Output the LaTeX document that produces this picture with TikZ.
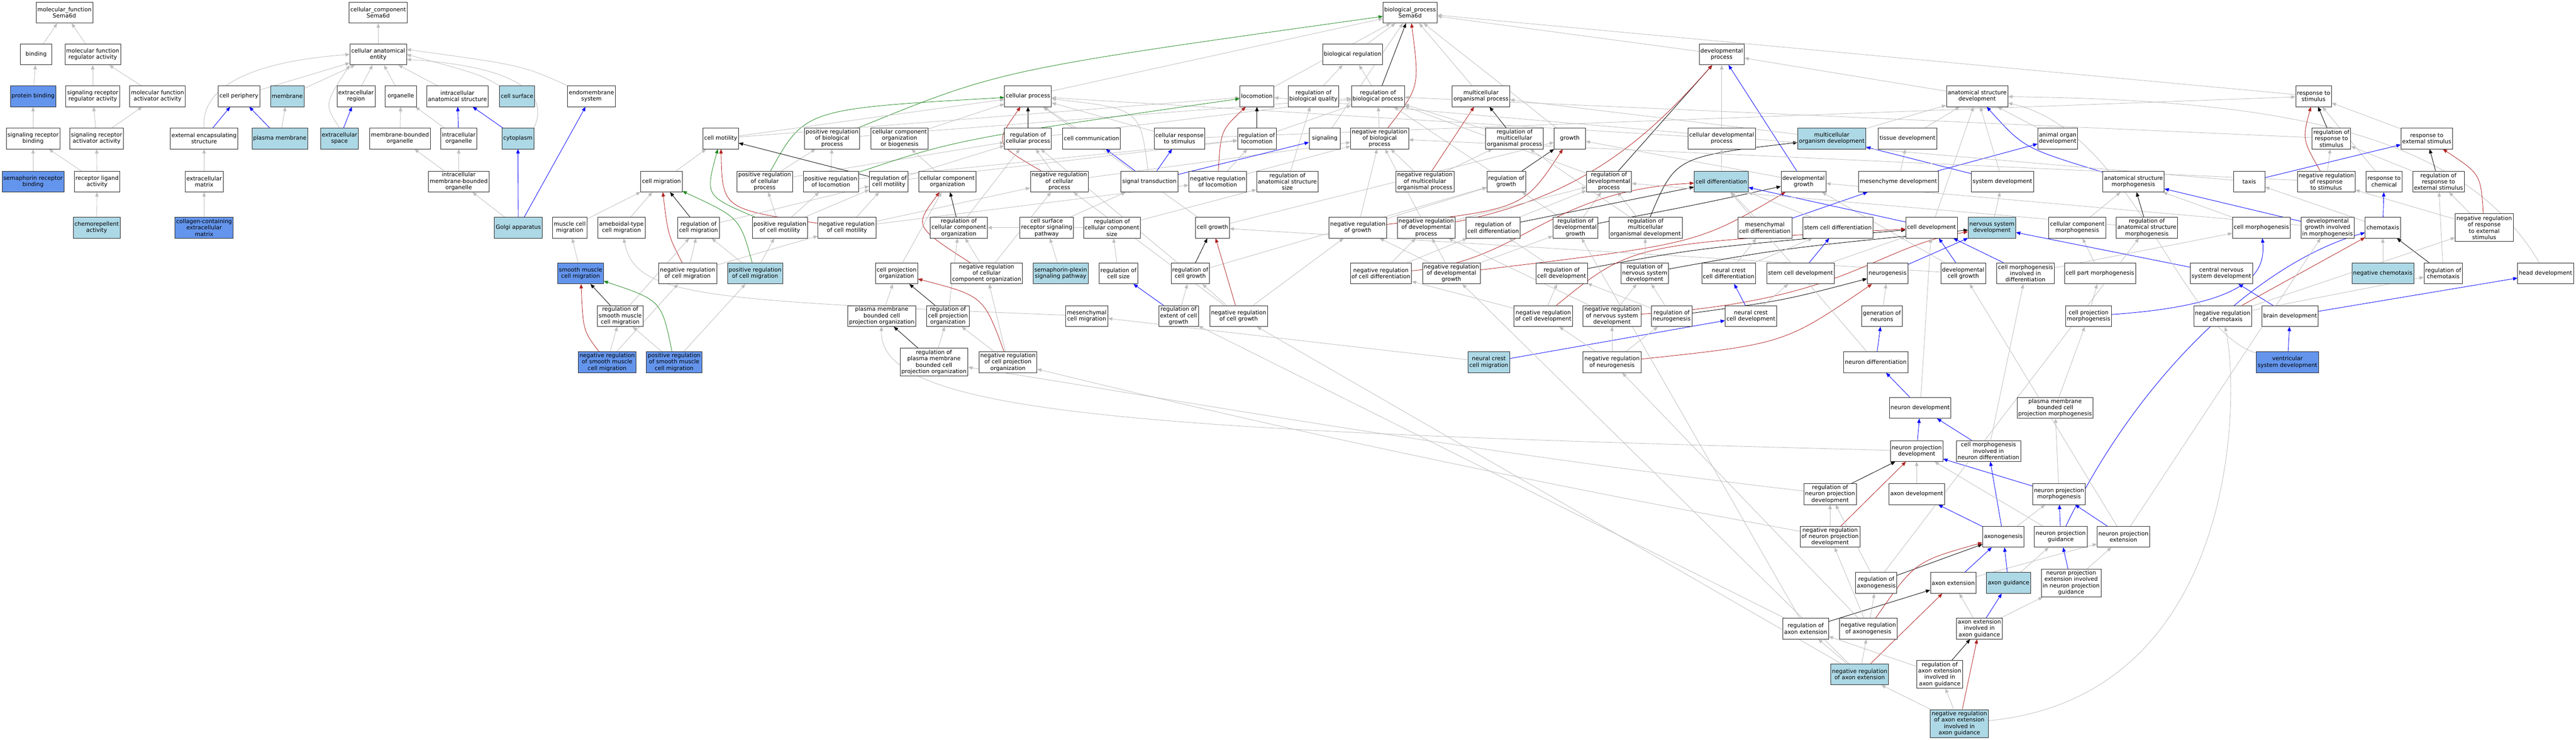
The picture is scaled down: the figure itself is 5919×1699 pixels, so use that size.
\documentclass[tikz,border=0pt]{standalone}
\usepackage{fontspec}
\setmainfont{DejaVu Sans}
\usetikzlibrary{arrows.meta, backgrounds}
\definecolor{edgegrey}{HTML}{BEBEBE}
\definecolor{annotblue}{HTML}{ADD8E6}
\definecolor{directblue}{HTML}{6495ED}
\definecolor{partblue}{HTML}{0000FF}
\definecolor{negred}{HTML}{B22222}
\definecolor{posgreen}{HTML}{228B22}

\begin{document}
\begin{tikzpicture}[x=1pt, y=-1pt,
    term/.style={rectangle, draw=black!85, line width=0.9pt, fill=white,
                 align=center, font=\fontsize{13}{14.6}\selectfont,
                 minimum width=72pt, minimum height=48pt,
                 inner xsep=3pt, inner ysep=1pt},
    termlight/.style={term, fill=annotblue},
    termdark/.style={term, fill=directblue},
    tall/.style={minimum height=64pt},
    link/.style={-{Triangle[length=10pt,width=8pt]}, line width=1pt},
    isa/.style={link, color=edgegrey},
    partof/.style={link, color=partblue},
    regulates/.style={link, color=black},
    negreg/.style={link, color=negred},
    posreg/.style={link, color=posgreen}
  ]
    \useasboundingbox (0,0) rectangle (5919,1699);

    % Molecular function
    \node[term] (mfroot) at (148,29) {molecular\_function\\Sema6d};
    \node[term] (binding) at (83,125) {binding};
    \node[term] (mfreg) at (213,125) {molecular function\\regulator activity};
    \node[termdark] (protbind) at (76,221) {protein binding};
    \node[term] (sigrecreg) at (213,221) {signaling receptor\\regulator activity};
    \node[term] (mfact) at (362,221) {molecular function\\activator activity};
    \node[term] (sigrecbind) at (76,318) {signaling receptor\\binding};
    \node[term] (sigrecact) at (222,318) {signaling receptor\\activator activity};
    \node[termdark] (semarecbind) at (76,417) {semaphorin receptor\\binding};
    \node[term] (recligand) at (223,417) {receptor ligand\\activity};
    \node[termlight] (chemorep) at (222,523) {chemorepellent\\activity};

    % Cellular component
    \node[term] (ccroot) at (869,29) {cellular\_component\\Sema6d};
    \node[term] (ccent) at (869,125) {cellular anatomical\\entity};
    \node[term] (cellperiph) at (549,221) {cell periphery};
    \node[termlight] (membrane) at (660,221) {membrane};
    \node[term] (extreg) at (818,221) {extracellular\\region};
    \node[term] (organelle) at (921,221) {organelle};
    \node[term] (intraanat) at (1051,221) {intracellular\\anatomical structure};
    \node[termlight] (cellsurf) at (1188,221) {cell surface};
    \node[term] (endomem) at (1359,221) {endomembrane\\system};
    \node[term] (extencap) at (469,318) {external encapsulating\\structure};
    \node[termlight] (plasmamem) at (643,318) {plasma membrane};
    \node[termlight] (extspace) at (780,318) {extracellular\\space};
    \node[term] (membbound) at (919,318) {membrane-bounded\\organelle};
    \node[term] (intraorg) at (1054,318) {intracellular\\organelle};
    \node[termlight] (cytoplasm) at (1190,318) {cytoplasm};
    \node[term] (extmatrix) at (469,417) {extracellular\\matrix};
    \node[term] (intrambo) at (1054,417) {intracellular\\membrane-bounded\\organelle};
    \node[termdark] (collagen) at (469,523) {collagen-containing\\extracellular\\matrix};
    \node[termlight] (golgi) at (1191,523) {Golgi apparatus};

    % Biological process, rows 0-2
    \node[term] (bproot) at (3240,29) {biological\_process\\Sema6d};
    \node[term] (bioreg) at (3108,125) {biological regulation};
    \node[term] (devproc) at (3956,125) {developmental\\process};
    \node[term] (cellproc) at (2362,221) {cellular process};
    \node[term] (locomotion) at (2888,221) {locomotion};
    \node[term] (regbioqual) at (3018,221) {regulation of\\biological quality};
    \node[term] (regbioproc) at (3166,221) {regulation of\\biological process};
    \node[term] (multiorgproc) at (3403,221) {multicellular\\organismal process};
    \node[term] (anatdev) at (4543,221) {anatomical structure\\development};
    \node[term] (respstim) at (5316,221) {response to\\stimulus};

    % row 3
    \node[term] (cellmot) at (1656,318) {cell motility};
    \node[term] (posregbio) at (1912,318) {positive regulation\\of biological\\process};
    \node[term] (ccob) at (2067,318) {cellular component\\organization\\or biogenesis};
    \node[term] (regcellproc) at (2362,318) {regulation of\\cellular process};
    \node[term] (cellcomm) at (2508,318) {cell communication};
    \node[term] (cellresp) at (2710,318) {cellular response\\to stimulus};
    \node[term] (regloco) at (2888,318) {regulation of\\locomotion};
    \node[term] (signaling) at (3044,318) {signaling};
    \node[term] (negregbio) at (3170,318) {negative regulation\\of biological\\process};
    \node[term] (regmultiorg) at (3480,318) {regulation of\\multicellular\\organismal process};
    \node[term] (growth) at (3607,318) {growth};
    \node[term] (celldevproc) at (3956,318) {cellular developmental\\process};
    \node[termlight] (multiorgdev) at (4209,318) {multicellular\\organism development};
    \node[term] (tissuedev) at (4383,318) {tissue development};
    \node[term] (animalorgan) at (4728,318) {animal organ\\development};
    \node[term] (regrespstim) at (5357,318) {regulation of\\response to\\stimulus};
    \node[term] (respext) at (5576,318) {response to\\external stimulus};

    % row 4
    \node[term] (cellmig) at (1520,417) {cell migration};
    \node[term] (posregcellproc) at (1757,417) {positive regulation\\of cellular\\process};
    \node[term] (posregloco) at (1909,417) {positive regulation\\of locomotion};
    \node[term] (regcellmot) at (2042,417) {regulation of\\cell motility};
    \node[term] (cco) at (2177,417) {cellular component\\organization};
    \node[term] (negregcellproc) at (2434,417) {negative regulation\\of cellular\\process};
    \node[term] (sigtrans) at (2641,417) {signal transduction};
    \node[term] (negregloco) at (2798,417) {negative regulation\\of locomotion};
    \node[term] (reganatsize) at (2958,417) {regulation of\\anatomical structure\\size};
    \node[term] (negregmultiorg) at (3274,417) {negative regulation\\of multicellular\\organismal process};
    \node[term] (reggrowth) at (3461,417) {regulation of\\growth};
    \node[term] (regdevproc) at (3697,417) {regulation of\\developmental\\process};
    \node[termlight] (celldiff) at (3955,417) {cell differentiation};
    \node[term] (devgrowth) at (4144,417) {developmental\\growth};
    \node[term] (mesendev) at (4362,417) {mesenchyme development};
    \node[term] (sysdev) at (4601,417) {system development};
    \node[term] (anatmorph) at (4902,417) {anatomical structure\\morphogenesis};
    \node[term] (taxis) at (5168,417) {taxis};
    \node[term] (negregrespstim) at (5345,417) {negative regulation\\of response\\to stimulus};
    \node[term] (respchem) at (5478,417) {response to\\chemical};
    \node[term] (regrespext) at (5603,417) {regulation of\\response to\\external stimulus};

    % row 5
    \node[term] (musclemig) at (1309,523) {muscle cell\\migration};
    \node[term] (ameboid) at (1428,523) {ameboidal-type\\cell migration};
    \node[term] (regcellmig) at (1605,523) {regulation of\\cell migration};
    \node[term] (posregcellmot) at (1792,523) {positive regulation\\of cell motility};
    \node[term] (negregcellmot) at (1946,523) {negative regulation\\of cell motility};
    \node[term] (regcco) at (2203,523) {regulation of\\cellular component\\organization};
    \node[term] (csrsp) at (2405,523) {cell surface\\receptor signaling\\pathway};
    \node[term] (regccsize) at (2555,523) {regulation of\\cellular component\\size};
    \node[term] (cellgrowth) at (2786,523) {cell growth};
    \node[term] (negreggrowth) at (3120,523) {negative regulation\\of growth};
    \node[term] (negregdevproc) at (3277,523) {negative regulation\\of developmental\\process};
    \node[term] (regcelldiff) at (3431,523) {regulation of\\cell differentiation};
    \node[term] (regdevgrowth) at (3620,523) {regulation of\\developmental\\growth};
    \node[term] (regmultidev) at (3781,523) {regulation of\\multicellular\\organismal development};
    \node[term] (mesencelldiff) at (4055,523) {mesenchymal\\cell differentiation};
    \node[term] (stemdiff) at (4223,523) {stem cell differentiation};
    \node[term] (celldev) at (4438,523) {cell development};
    \node[termlight] (nsdev) at (4577,523) {nervous system\\development};
    \node[term] (ccmorph) at (4773,523) {cellular component\\morphogenesis};
    \node[term] (reganatmorph) at (4933,523) {regulation of\\anatomical structure\\morphogenesis};
    \node[term] (cellmorph) at (5196,523) {cell morphogenesis};
    \node[term] (devgrowthmorph) at (5348,523) {developmental\\growth involved\\in morphogenesis};
    \node[term] (chemotaxis) at (5475,523) {chemotaxis};
    \node[term, tall] (negregrespext) at (5708,523) {negative regulation\\of response\\to external\\stimulus};

    % row 6
    \node[termdark] (smcmig) at (1334,628) {smooth muscle\\cell migration};
    \node[term] (negregcellmig) at (1580,628) {negative regulation\\of cell migration};
    \node[termlight] (posregcellmig) at (1735,628) {positive regulation\\of cell migration};
    \node[term] (cellprojorg) at (2060,628) {cell projection\\organization};
    \node[term] (negregcco) at (2267,628) {negative regulation\\of cellular\\component organization};
    \node[termlight] (semaplexin) at (2437,628) {semaphorin-plexin\\signaling pathway};
    \node[term] (regcellsize) at (2570,628) {regulation of\\cell size};
    \node[term] (regcellgrowth) at (2735,628) {regulation of\\cell growth};
    \node[term] (negregcelldiff) at (3173,628) {negative regulation\\of cell differentiation};
    \node[term] (negregdevgrowth) at (3335,628) {negative regulation\\of developmental\\growth};
    \node[term] (regcelldev) at (3588,628) {regulation of\\cell development};
    \node[term] (regnsdev) at (3779,628) {regulation of\\nervous system\\development};
    \node[term] (nccdiff) at (3972,628) {neural crest\\cell differentiation};
    \node[term] (stemdev) at (4137,628) {stem cell development};
    \node[term] (neurogenesis) at (4337,628) {neurogenesis};
    \node[term] (devcellgrowth) at (4511,628) {developmental\\cell growth};
    \node[term] (cmorphdiff) at (4654,628) {cell morphogenesis\\involved in\\differentiation};
    \node[term] (cpartmorph) at (4825,628) {cell part morphogenesis};
    \node[term] (cnsdev) at (5104,628) {central nervous\\system development};
    \node[termlight] (negchemo) at (5475,628) {negative chemotaxis};
    \node[term] (regchemo) at (5614,628) {regulation of\\chemotaxis};
    \node[term] (headdev) at (5849,628) {head development};

    % row 7
    \node[term] (regsmcmig) at (1425,726) {regulation of\\smooth muscle\\cell migration};
    \node[term] (pmbcpo) at (2026,726) {plasma membrane\\bounded cell\\projection organization};
    \node[term] (regcellprojorg) at (2178,726) {regulation of\\cell projection\\organization};
    \node[term] (mesencellmig) at (2497,726) {mesenchymal\\cell migration};
    \node[term] (regextgrowth) at (2708,726) {regulation of\\extent of cell\\growth};
    \node[term] (negregcellgrowth) at (2846,726) {negative regulation\\of cell growth};
    \node[term] (negregcelldev) at (3546,726) {negative regulation\\of cell development};
    \node[term] (negregnsdev) at (3704,726) {negative regulation\\of nervous system\\development};
    \node[term] (regneurogen) at (3841,726) {regulation of\\neurogenesis};
    \node[term] (nccdev) at (4023,726) {neural crest\\cell development};
    \node[term] (genneurons) at (4324,726) {generation of\\neurons};
    \node[term] (cprojmorph) at (4799,726) {cell projection\\morphogenesis};
    \node[term] (negregchemo) at (5107,726) {negative regulation\\of chemotaxis};
    \node[term] (braindev) at (5262,726) {brain development};

    % row 8
    \node[termdark] (negregsmcmig) at (1395,832) {negative regulation\\of smooth muscle\\cell migration};
    \node[termdark] (posregsmcmig) at (1549,832) {positive regulation\\of smooth muscle\\cell migration};
    \node[term, tall] (regpmbcpo) at (2146,832) {regulation of\\plasma membrane\\bounded cell\\projection organization};
    \node[term] (negregcellprojorg) at (2316,832) {negative regulation\\of cell projection\\organization};
    \node[termlight] (nccmig) at (3421,832) {neural crest\\cell migration};
    \node[term] (negregneurogen) at (3704,832) {negative regulation\\of neurogenesis};
    \node[term] (neurondiff) at (4310,832) {neuron differentiation};
    \node[termdark] (ventricular) at (5256,832) {ventricular\\system development};

    % rows 9-16, neuron projection branch
    \node[term] (neurondev) at (4412,937) {neuron development};
    \node[term] (pmbcpm) at (4722,937) {plasma membrane\\bounded cell\\projection morphogenesis};
    \node[term] (npd) at (4404,1036) {neuron projection\\development};
    \node[term] (cmorphneuron) at (4569,1036) {cell morphogenesis\\involved in\\neuron differentiation};
    \node[term] (regnpd) at (4205,1135) {regulation of\\neuron projection\\development};
    \node[term] (axondev) at (4404,1135) {axon development};
    \node[term] (npmorph) at (4731,1135) {neuron projection\\morphogenesis};
    \node[term] (negregnpd) at (4205,1233) {negative regulation\\of neuron projection\\development};
    \node[term] (axonogenesis) at (4603,1233) {axonogenesis};
    \node[term] (npguid) at (4735,1233) {neuron projection\\guidance};
    \node[term] (npext) at (4879,1233) {neuron projection\\extension};
    \node[term] (regaxonogen) at (4311,1339) {regulation of\\axonogenesis};
    \node[term] (axonext) at (4488,1339) {axon extension};
    \node[termlight] (axonguid) at (4615,1339) {axon guidance};
    \node[term, tall] (npextguid) at (4759,1339) {neuron projection\\extension involved\\in neuron projection\\guidance};
    \node[term] (regaxonext) at (4149,1444) {regulation of\\axon extension};
    \node[term] (negregaxonogen) at (4293,1444) {negative regulation\\of axonogenesis};
    \node[term] (axonextguid) at (4548,1444) {axon extension\\involved in\\axon guidance};
    \node[termlight] (negregaxonext) at (4273,1549) {negative regulation\\of axon extension};
    \node[term, tall] (regaxonextguid) at (4457,1549) {regulation of\\axon extension\\involved in\\axon guidance};
    \node[termlight, tall] (negregaxonextguid) at (4502,1662) {negative regulation\\of axon extension\\involved in\\axon guidance};

    \begin{pgfonlayer}{background}
    \fill[white] (0,0) rectangle (5919,1699);

    % Molecular function links
    \draw[isa] (binding) -- (mfroot);
    \draw[isa] (mfreg) -- (mfroot);
    \draw[isa] (protbind) -- (binding);
    \draw[isa] (sigrecreg) -- (mfreg);
    \draw[isa] (mfact) -- (mfreg);
    \draw[isa] (sigrecbind) -- (protbind);
    \draw[isa] (sigrecact) -- (sigrecreg);
    \draw[isa] (sigrecact) -- (mfact);
    \draw[isa] (semarecbind) -- (sigrecbind);
    \draw[isa] (recligand) -- (sigrecbind);
    \draw[isa] (recligand) -- (sigrecact);
    \draw[isa] (chemorep) -- (recligand);

    % Cellular component links
    \draw[isa] (ccent) -- (ccroot);
    \draw[isa] (cellperiph) -- (ccent);
    \draw[isa] (membrane) -- (ccent);
    \draw[isa] (extreg) -- (ccent);
    \draw[isa] (organelle) -- (ccent);
    \draw[isa] (intraanat) -- (ccent);
    \draw[isa] (extencap.north) .. controls (460,190) and (600,140) .. (ccent.west);
    \draw[isa] (extspace.north) .. controls (745,240) .. (ccent.south west);
    \draw[isa] (cytoplasm.north east) .. controls (1270,200) and (1150,150) .. (ccent.-10);
    \draw[isa] (cellsurf.north west) .. controls (1100,170) .. (ccent.east);
    \draw[isa] (endomem.north west) .. controls (1200,150) .. (ccent.10);
    \draw[partof] (extencap) -- (cellperiph);
    \draw[partof] (plasmamem) -- (cellperiph);
    \draw[isa] (plasmamem) -- (membrane);
    \draw[partof] (extspace) -- (extreg);
    \draw[isa] (membbound) -- (organelle);
    \draw[isa] (intraorg) -- (organelle);
    \draw[partof] (intraorg) -- (intraanat);
    \draw[partof] (cytoplasm) -- (intraanat);
    \draw[isa] (extmatrix) -- (extencap);
    \draw[isa] (intrambo) -- (membbound);
    \draw[isa] (intrambo) -- (intraorg);
    \draw[isa] (golgi) -- (intrambo);
    \draw[partof] (golgi) -- (cytoplasm);
    \draw[partof] (golgi) -- (endomem);
    \draw[isa] (collagen) -- (extmatrix);

    % Biological process, top
    \draw[isa] (bioreg) -- (bproot);
    \draw[isa] (regbioqual) -- (bioreg);
    \draw[isa] (regbioproc) -- (bioreg);
    \draw[regulates] (regbioproc) -- (bproot);
    \draw[isa] (negregbio) -- (regbioproc);
    \draw[negreg] (negregbio) .. controls (3262,200) .. (bproot);
    \draw[isa] (posregbio) -- (regbioproc);
    \draw[posreg] (posregbio) .. controls (2300,160) .. (bproot);
    \draw[isa] (multiorgproc) -- (bproot);
    \draw[isa] (devproc) -- (bproot);
    \draw[isa] (cellproc) -- (bproot);
    \draw[isa] (locomotion) -- (bproot);
    \draw[isa] (growth) -- (bproot);
    \draw[isa] (respstim) -- (bproot);
    \draw[isa] (signaling) -- (bproot);
    \draw[isa] (reganatsize) -- (regbioqual);

    % cellular process
    \draw[regulates] (regcellproc) -- (cellproc);
    \draw[isa] (regcellproc) -- (regbioproc);
    \draw[negreg] (negregcellproc) .. controls (2285,330) .. (cellproc);
    \draw[isa] (negregcellproc) -- (regcellproc);
    \draw[isa] (negregcellproc) -- (negregbio);
    \draw[posreg] (posregcellproc) .. controls (1850,250) .. (cellproc);
    \draw[isa] (posregcellproc) -- (regcellproc);
    \draw[isa] (posregcellproc) -- (posregbio);
    \draw[isa] (ccob) -- (cellproc);
    \draw[isa] (cellcomm) -- (cellproc);
    \draw[isa] (cellresp) -- (cellproc);
    \draw[isa] (cellresp) -- (respstim);
    \draw[isa] (cellmot) -- (cellproc);
    \draw[isa] (cellmot) -- (locomotion);
    \draw[isa] (cellgrowth) -- (cellproc);
    \draw[isa] (cellgrowth) -- (growth);
    \draw[partof] (sigtrans) -- (cellcomm);
    \draw[partof] (sigtrans) -- (cellresp);
    \draw[partof] (sigtrans) -- (signaling);
    \draw[isa] (sigtrans) .. controls (2620,250) .. (cellproc);
    \draw[isa] (csrsp) -- (sigtrans);
    \draw[isa] (semaplexin) -- (csrsp);
    \draw[isa] (celldevproc) -- (devproc);
    \draw[isa] (celldevproc) -- (cellproc);

    % locomotion and migration
    \draw[regulates] (regloco) -- (locomotion);
    \draw[isa] (regloco) -- (regbioproc);
    \draw[negreg] (negregloco) .. controls (2805,300) .. (locomotion);
    \draw[isa] (negregloco) -- (regloco);
    \draw[isa] (negregloco) -- (negregbio);
    \draw[posreg] (posregloco) .. controls (2200,320) .. (locomotion);
    \draw[isa] (posregloco) -- (regloco);
    \draw[isa] (posregloco) -- (posregbio);
    \draw[isa] (cellmig) -- (cellmot);
    \draw[regulates] (regcellmot) -- (cellmot);
    \draw[isa] (regcellmot) -- (regloco);
    \draw[isa] (regcellmot) -- (regcellproc);
    \draw[negreg] (negregcellmot) .. controls (1660,480) .. (cellmot);
    \draw[isa] (negregcellmot) -- (regcellmot);
    \draw[isa] (negregcellmot) -- (negregloco);
    \draw[isa] (negregcellmot) -- (negregcellproc);
    \draw[posreg] (posregcellmot) .. controls (1620,450) .. (cellmot);
    \draw[isa] (posregcellmot) -- (regcellmot);
    \draw[isa] (posregcellmot) -- (posregloco);
    \draw[isa] (posregcellmot) -- (posregcellproc);
    \draw[isa] (musclemig) -- (cellmig);
    \draw[isa] (ameboid) -- (cellmig);
    \draw[regulates] (regcellmig) -- (cellmig);
    \draw[isa] (regcellmig) -- (regcellmot);
    \draw[negreg] (negregcellmig) .. controls (1535,540) .. (cellmig);
    \draw[isa] (negregcellmig) -- (regcellmig);
    \draw[isa] (negregcellmig) -- (negregcellmot);
    \draw[posreg] (posregcellmig) .. controls (1700,500) .. (cellmig);
    \draw[isa] (posregcellmig) -- (regcellmig);
    \draw[isa] (posregcellmig) -- (posregcellmot);
    \draw[isa] (smcmig) -- (musclemig);
    \draw[regulates] (regsmcmig) -- (smcmig);
    \draw[isa] (regsmcmig) -- (regcellmig);
    \draw[negreg] (negregsmcmig) .. controls (1340,760) .. (smcmig);
    \draw[isa] (negregsmcmig) -- (regsmcmig);
    \draw[isa] (negregsmcmig) -- (negregcellmig);
    \draw[posreg] (posregsmcmig) .. controls (1520,690) .. (smcmig);
    \draw[isa] (posregsmcmig) -- (regsmcmig);
    \draw[isa] (posregsmcmig) -- (posregcellmig);
    \draw[isa] (mesencellmig) .. controls (1600,690) and (1460,680) .. (ameboid);
    \draw[isa] (nccmig) -- (mesencellmig);
    \draw[partof] (nccmig) -- (nccdev);

    % cellular component organization
    \draw[isa] (cco) -- (ccob);
    \draw[regulates] (regcco) -- (cco);
    \draw[isa] (regcco) -- (regcellproc);
    \draw[negreg] (negregcco) .. controls (2100,520) .. (cco);
    \draw[isa] (negregcco) -- (regcco);
    \draw[isa] (negregcco) -- (negregcellproc);
    \draw[isa] (cellprojorg) -- (cco);
    \draw[isa] (pmbcpo) -- (cellprojorg);
    \draw[regulates] (regcellprojorg) -- (cellprojorg);
    \draw[isa] (regcellprojorg) -- (regcco);
    \draw[regulates] (regpmbcpo) -- (pmbcpo);
    \draw[isa] (regpmbcpo) -- (regcellprojorg);
    \draw[negreg] (negregcellprojorg) .. controls (2260,680) .. (cellprojorg);
    \draw[isa] (negregcellprojorg) -- (regcellprojorg);
    \draw[isa] (negregcellprojorg) -- (negregcco);
    \draw[isa] (regccsize) -- (regcco);
    \draw[isa] (regccsize) -- (reganatsize);
    \draw[isa] (regcellsize) -- (regccsize);
    \draw[partof] (regextgrowth) -- (regcellsize);
    \draw[isa] (regextgrowth) -- (regcellgrowth);

    % growth
    \draw[regulates] (reggrowth) -- (growth);
    \draw[isa] (reggrowth) -- (regbioproc);
    \draw[negreg] (negreggrowth) .. controls (3500,480) .. (growth);
    \draw[isa] (negreggrowth) -- (reggrowth);
    \draw[isa] (negreggrowth) -- (negregbio);
    \draw[regulates] (regcellgrowth) -- (cellgrowth);
    \draw[isa] (regcellgrowth) -- (reggrowth);
    \draw[isa] (regcellgrowth) -- (regcellproc);
    \draw[negreg] (negregcellgrowth) -- (cellgrowth);
    \draw[isa] (negregcellgrowth) -- (regcellgrowth);
    \draw[isa] (negregcellgrowth) -- (negreggrowth);
    \draw[isa] (negregcellgrowth) -- (negregcellproc);
    \draw[isa] (devgrowth) -- (growth);
    \draw[partof] (devgrowth) -- (devproc);
    \draw[regulates] (regdevgrowth) .. controls (3900,470) .. (devgrowth);
    \draw[isa] (regdevgrowth) -- (reggrowth);
    \draw[isa] (regdevgrowth) -- (regdevproc);
    \draw[negreg] (negregdevgrowth) .. controls (3900,560) .. (devgrowth);
    \draw[isa] (negregdevgrowth) -- (regdevgrowth);
    \draw[isa] (negregdevgrowth) -- (negreggrowth);
    \draw[isa] (negregdevgrowth) -- (negregdevproc);
    \draw[isa] (devcellgrowth) -- (cellgrowth);
    \draw[isa] (devcellgrowth) -- (devgrowth);
    \draw[partof] (devcellgrowth) -- (celldev);
    \draw[isa] (devgrowthmorph) -- (devgrowth);
    \draw[partof] (devgrowthmorph) -- (anatmorph);

    % multicellular and developmental process
    \draw[regulates] (regmultiorg) -- (multiorgproc);
    \draw[isa] (regmultiorg) -- (regbioproc);
    \draw[negreg] (negregmultiorg) -- (multiorgproc);
    \draw[isa] (negregmultiorg) -- (regmultiorg);
    \draw[isa] (negregmultiorg) -- (negregbio);
    \draw[isa] (multiorgdev) -- (multiorgproc);
    \draw[isa] (multiorgdev) -- (anatdev);
    \draw[regulates] (regmultidev) .. controls (3850,360) .. (multiorgdev);
    \draw[isa] (regmultidev) -- (regmultiorg);
    \draw[isa] (regmultidev) -- (regdevproc);
    \draw[regulates] (regdevproc) -- (devproc);
    \draw[isa] (regdevproc) -- (regbioproc);
    \draw[negreg] (negregdevproc) .. controls (3650,450) and (3800,300) .. (devproc);
    \draw[isa] (negregdevproc) -- (regdevproc);
    \draw[isa] (negregdevproc) -- (negregbio);
    \draw[isa] (anatdev) -- (devproc);
    \draw[isa] (celldiff) -- (celldevproc);
    \draw[regulates] (regcelldiff) -- (celldiff);
    \draw[isa] (regcelldiff) -- (regdevproc);
    \draw[negreg] (negregcelldiff) .. controls (3500,600) and (3550,440) .. (celldiff);
    \draw[isa] (negregcelldiff) -- (regcelldiff);
    \draw[isa] (negregcelldiff) -- (negregdevproc);
    \draw[isa] (celldev) -- (anatdev);
    \draw[partof] (celldev) -- (celldiff);
    \draw[regulates] (regcelldev) .. controls (3900,570) .. (celldev);
    \draw[isa] (regcelldev) -- (regcelldiff);
    \draw[negreg] (negregcelldev) .. controls (3750,560) .. (celldev);
    \draw[isa] (negregcelldev) -- (regcelldev);
    \draw[isa] (negregcelldev) -- (negregcelldiff);
    \draw[regulates] (regnsdev) .. controls (4100,570) .. (nsdev);
    \draw[isa] (regnsdev) -- (regmultidev);
    \draw[negreg] (negregnsdev) .. controls (4250,690) and (4300,570) .. (nsdev);
    \draw[isa] (negregnsdev) -- (regnsdev);
    \draw[isa] (negregnsdev) -- (negregdevproc);
    \draw[regulates] (regneurogen) .. controls (4100,690) .. (neurogenesis);
    \draw[isa] (regneurogen) -- (regnsdev);
    \draw[isa] (regneurogen) -- (regcelldev);
    \draw[negreg] (negregneurogen) .. controls (4100,790) .. (neurogenesis);
    \draw[isa] (negregneurogen) -- (regneurogen);
    \draw[isa] (negregneurogen) -- (negregnsdev);
    \draw[isa] (negregneurogen) -- (negregcelldev);
    \draw[isa] (mesencelldiff) -- (celldiff);
    \draw[partof] (mesencelldiff) -- (mesendev);
    \draw[isa] (stemdiff) -- (celldiff);
    \draw[partof] (stemdev) -- (stemdiff);
    \draw[isa] (stemdev) -- (celldev);
    \draw[isa] (nccdiff) -- (mesencelldiff);
    \draw[isa] (nccdiff) -- (stemdiff);
    \draw[partof] (nccdev) -- (nccdiff);
    \draw[isa] (nccdev) -- (stemdev);
    \draw[isa] (mesendev) -- (tissuedev);
    \draw[partof] (mesendev) -- (animalorgan);
    \draw[isa] (tissuedev) -- (anatdev);
    \draw[isa] (animalorgan) -- (anatdev);
    \draw[partof] (sysdev) -- (multiorgdev);
    \draw[isa] (sysdev) -- (anatdev);
    \draw[isa] (nsdev) -- (sysdev);
    \draw[partof] (anatmorph) .. controls (4650,340) .. (anatdev);
    \draw[regulates] (reganatmorph) -- (anatmorph);
    \draw[isa] (reganatmorph) -- (regdevproc);
    \draw[isa] (ccmorph) -- (anatmorph);
    \draw[isa] (cellmorph) -- (anatmorph);
    \draw[isa] (cmorphdiff) -- (cellmorph);
    \draw[partof] (cmorphdiff) -- (celldev);
    \draw[isa] (cpartmorph) -- (ccmorph);
    \draw[isa] (cprojmorph) -- (cpartmorph);
    \draw[partof] (cprojmorph) .. controls (5180,700) and (5205,620) .. (cellmorph);
    \draw[partof] (neurogenesis) -- (nsdev);
    \draw[isa] (genneurons) -- (neurogenesis);
    \draw[partof] (neurondiff) -- (genneurons);
    \draw[isa] (neurondiff) -- (celldiff);
    \draw[partof] (cnsdev) -- (nsdev);
    \draw[partof] (braindev) -- (cnsdev);
    \draw[partof] (braindev) -- (headdev);
    \draw[isa] (headdev) .. controls (5650,290) and (5200,230) .. (anatdev);
    \draw[partof] (ventricular) -- (braindev);
    \draw[isa] (ventricular) .. controls (5010,760) and (4900,300) .. (anatdev);

    % response to stimulus
    \draw[regulates] (regrespstim) -- (respstim);
    \draw[isa] (regrespstim) -- (regbioproc);
    \draw[negreg] (negregrespstim) .. controls (5290,320) .. (respstim);
    \draw[isa] (negregrespstim) -- (regrespstim);
    \draw[isa] (negregrespstim) -- (negregbio);
    \draw[isa] (respext) -- (respstim);
    \draw[regulates] (regrespext) -- (respext);
    \draw[isa] (regrespext) -- (regrespstim);
    \draw[negreg] (negregrespext) .. controls (5700,400) .. (respext);
    \draw[isa] (negregrespext) -- (regrespext);
    \draw[isa] (negregrespext) -- (negregrespstim);
    \draw[isa] (respchem) -- (respstim);
    \draw[partof] (taxis) -- (respext);
    \draw[isa] (taxis) -- (locomotion);
    \draw[isa] (chemotaxis) -- (taxis);
    \draw[partof] (chemotaxis) -- (respchem);
    \draw[isa] (negchemo) -- (chemotaxis);
    \draw[regulates] (regchemo) -- (chemotaxis);
    \draw[isa] (regchemo) -- (regrespext);
    \draw[negreg] (negregchemo) -- (chemotaxis);
    \draw[isa] (negregchemo) -- (regchemo);
    \draw[isa] (negregchemo) -- (negregrespext);

    % neuron projection
    \draw[partof] (neurondev) -- (neurondiff);
    \draw[isa] (neurondev) -- (celldev);
    \draw[isa] (pmbcpm) -- (cprojmorph);
    \draw[partof] (npd) -- (neurondev);
    \draw[isa] (npd) .. controls (2600,990) and (2020,950) .. (pmbcpo);
    \draw[partof] (cmorphneuron) -- (neurondev);
    \draw[isa] (cmorphneuron) -- (cmorphdiff);
    \draw[regulates] (regnpd) -- (npd);
    \draw[isa] (regnpd) .. controls (3300,1030) and (2600,900) .. (regpmbcpo);
    \draw[isa] (axondev) -- (npd);
    \draw[partof] (npmorph) -- (npd);
    \draw[isa] (npmorph) -- (pmbcpm);
    \draw[negreg] (negregnpd) -- (npd);
    \draw[isa] (negregnpd) -- (regnpd);
    \draw[isa] (negregnpd) .. controls (3200,1050) and (2600,900) .. (negregcellprojorg);
    \draw[partof] (axonogenesis) -- (axondev);
    \draw[partof] (axonogenesis) -- (cmorphneuron);
    \draw[isa] (axonogenesis) -- (npmorph);
    \draw[partof] (npguid) -- (npmorph);
    \draw[isa] (npguid) -- (npd);
    \draw[partof] (npguid) .. controls (4920,850) and (5200,600) .. (chemotaxis);
    \draw[partof] (npext) -- (npmorph);
    \draw[isa] (npext) -- (devgrowthmorph);
    \draw[isa] (npext) -- (devcellgrowth);
    \draw[regulates] (regaxonogen) -- (axonogenesis);
    \draw[isa] (regaxonogen) -- (regnpd);
    \draw[isa] (regaxonogen) -- (reganatmorph);
    \draw[partof] (axonext) -- (axonogenesis);
    \draw[isa] (axonext) -- (npext);
    \draw[partof] (axonguid) -- (axonogenesis);
    \draw[isa] (axonguid) -- (npguid);
    \draw[partof] (npextguid) -- (npguid);
    \draw[isa] (npextguid) -- (npext);
    \draw[regulates] (regaxonext) -- (axonext);
    \draw[isa] (regaxonext) -- (regdevgrowth);
    \draw[isa] (regaxonext) -- (regextgrowth);
    \draw[negreg] (negregaxonogen) .. controls (4400,1290) .. (axonogenesis);
    \draw[isa] (negregaxonogen) -- (regaxonogen);
    \draw[isa] (negregaxonogen) -- (negregnpd);
    \draw[isa] (negregaxonogen) -- (negregneurogen);
    \draw[isa] (axonextguid) -- (axonext);
    \draw[partof] (axonextguid) -- (axonguid);
    \draw[isa] (axonextguid) -- (npextguid);
    \draw[negreg] (negregaxonext) -- (axonext);
    \draw[isa] (negregaxonext) -- (regaxonext);
    \draw[isa] (negregaxonext) -- (negregaxonogen);
    \draw[isa] (negregaxonext) -- (negregdevgrowth);
    \draw[isa] (negregaxonext) -- (negregcellgrowth);
    \draw[regulates] (regaxonextguid) -- (axonextguid);
    \draw[isa] (regaxonextguid) -- (regaxonext);
    \draw[negreg] (negregaxonextguid) -- (axonextguid);
    \draw[isa] (negregaxonextguid) -- (regaxonextguid);
    \draw[isa] (negregaxonextguid) -- (negregaxonext);
    \draw[isa] (negregaxonextguid) .. controls (5150,1600) and (5146,900) .. (negregchemo);
    \end{pgfonlayer}
  \end{tikzpicture}
\end{document}
